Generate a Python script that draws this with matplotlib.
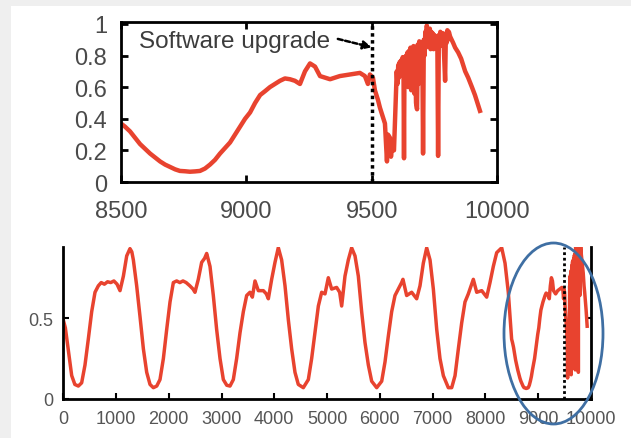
import matplotlib
matplotlib.use("Agg")
import matplotlib.pyplot as plt
from matplotlib.patches import Rectangle, Ellipse

plt.rcParams['font.family'] = ['Liberation Sans', 'DejaVu Sans']

# ---------------- data ----------------
# zoomed window (8500-10000)
zoom_t = [8500, 8516, 8536, 8556, 8576, 8596, 8616, 8636, 8656, 8676, 8696, 8716,
          8735, 8755, 8775, 8795, 8815, 8835, 8855, 8875, 8895, 8915, 8935, 8955,
          8975, 8995, 9015, 9035, 9055, 9075, 9094, 9114, 9134, 9154, 9174, 9194,
          9214, 9234, 9254, 9274, 9294, 9314, 9334, 9354, 9373, 9393, 9413, 9433,
          9453, 9473, 9485, 9493, 9505, 9513, 9525, 9533, 9545, 9553, 9561, 9565,
          9573, 9577, 9581, 9589,
          9597, 9600, 9603, 9606, 9609, 9612, 9615, 9618, 9621, 9624, 9627, 9629,
          9631, 9634, 9637, 9640, 9643, 9646, 9649, 9652, 9655, 9658, 9661, 9664,
          9667, 9670, 9673, 9677, 9681, 9684, 9687, 9690, 9693, 9696, 9699, 9702,
          9705, 9708, 9711, 9714, 9717, 9720, 9723, 9726, 9729, 9732, 9735, 9738,
          9741, 9744, 9747, 9750, 9753, 9756, 9759, 9762, 9765, 9768, 9771, 9774,
          9777, 9780, 9783, 9786, 9789, 9793, 9796, 9799, 9802, 9805, 9808, 9813,
          9825, 9833, 9845, 9857, 9873, 9885, 9900, 9912, 9924, 9932]
zoom_v = [0.37, 0.35, 0.32, 0.28, 0.24, 0.21, 0.18, 0.155, 0.13, 0.11, 0.095, 0.08,
          0.07, 0.068, 0.065, 0.067, 0.07, 0.085, 0.11, 0.14, 0.18, 0.215, 0.25, 0.30,
          0.35, 0.40, 0.44, 0.50, 0.55, 0.575, 0.60, 0.62, 0.64, 0.655, 0.65, 0.64,
          0.62, 0.70, 0.75, 0.73, 0.67, 0.66, 0.65, 0.66, 0.67, 0.675, 0.68, 0.685,
          0.69, 0.67, 0.62, 0.68, 0.66, 0.58, 0.52, 0.47, 0.41, 0.37, 0.13, 0.30,
          0.28, 0.16, 0.22, 0.20,
          0.55, 0.70, 0.62, 0.74, 0.66, 0.76, 0.68, 0.77, 0.70, 0.79, 0.72, 0.15,
          0.78, 0.70, 0.80, 0.68, 0.82, 0.60, 0.83, 0.66, 0.85, 0.58, 0.84, 0.62,
          0.86, 0.56, 0.85, 0.50, 0.46, 0.87, 0.62, 0.89, 0.70, 0.88, 0.75, 0.86,
          0.18, 0.90, 0.80, 0.95, 0.85, 0.99, 0.88, 0.96, 0.86, 0.97, 0.84, 0.95,
          0.86, 0.94, 0.84, 0.93, 0.86, 0.92, 0.88, 0.90, 0.165, 0.93, 0.86, 0.95,
          0.88, 0.94, 0.86, 0.94, 0.80, 0.64, 0.93, 0.88, 0.96, 0.90, 0.95, 0.92,
          0.88, 0.85, 0.82, 0.78, 0.70, 0.66, 0.60, 0.55, 0.49, 0.45]

# full trace (0-8500)
day_t = [0, 40, 100, 160, 220, 286, 349, 412, 475, 539, 602, 665, 720, 780, 840,
         900, 960, 1020, 1076, 1140, 1203, 1265, 1300, 1329, 1392, 1455, 1519, 1582,
         1645, 1708, 1772, 1834, 1898, 1961, 2024, 2087, 2150, 2210, 2270, 2330,
         2400, 2460, 2497, 2560, 2624, 2680, 2719, 2782, 2845, 2908, 2972, 3035,
         3100, 3161, 3224, 3287, 3351, 3414, 3477, 3540, 3585, 3635, 3698, 3793,
         3850, 3888, 3951, 4014, 4077, 4140, 4204, 4267, 4330, 4393, 4456, 4551,
         4646, 4709, 4772, 4836, 4899, 4962, 5025, 5088, 5183, 5240, 5278, 5341,
         5404, 5467, 5531, 5594, 5657, 5720, 5784, 5847, 5942, 6037, 6100, 6163,
         6226, 6289, 6352, 6415, 6440, 6510, 6605, 6700, 6763, 6826, 6890, 6953,
         7016, 7080, 7142, 7206, 7300, 7364, 7427, 7490, 7553, 7616, 7679, 7774,
         7838, 7933, 8027, 8090, 8153, 8217, 8312, 8375, 8437, 8480]
day_v = [0.49, 0.44, 0.29, 0.145, 0.09, 0.08, 0.10, 0.21, 0.37, 0.54, 0.66, 0.70,
         0.72, 0.71, 0.725, 0.72, 0.73, 0.71, 0.67, 0.76, 0.885, 0.93, 0.91, 0.86,
         0.70, 0.51, 0.31, 0.165, 0.09, 0.07, 0.08, 0.12, 0.25, 0.43, 0.60, 0.72,
         0.73, 0.72, 0.73, 0.72, 0.70, 0.68, 0.66, 0.74, 0.845, 0.87, 0.90, 0.82,
         0.64, 0.43, 0.25, 0.12, 0.085, 0.08, 0.12, 0.25, 0.41, 0.54, 0.64, 0.66,
         0.63, 0.73, 0.67, 0.67, 0.65, 0.62, 0.74, 0.845, 0.936, 0.86, 0.70, 0.49,
         0.31, 0.165, 0.09, 0.07, 0.12, 0.25, 0.41, 0.575, 0.66, 0.65, 0.75, 0.68,
         0.69, 0.66, 0.575, 0.76, 0.86, 0.935, 0.885, 0.76, 0.54, 0.35, 0.21, 0.11,
         0.07, 0.11, 0.23, 0.39, 0.54, 0.64, 0.68, 0.72, 0.74, 0.64, 0.66, 0.62,
         0.70, 0.84, 0.935, 0.86, 0.68, 0.43, 0.25, 0.144, 0.07, 0.07, 0.144, 0.31,
         0.47, 0.60, 0.65, 0.74, 0.66, 0.67, 0.63, 0.72, 0.82, 0.905, 0.935, 0.84,
         0.66, 0.46]

top_xticks = [8500, 9000, 9500, 10000]
top_yticks = [0, 0.2, 0.4, 0.6, 0.8, 1]
top_yticklabels = ['0', '0.2', '0.4', '0.6', '0.8', '1']
bot_xticks = [0, 1000, 2000, 3000, 4000, 5000, 6000, 7000, 8000, 9000, 10000]
bot_yticks = [0, 0.5]
bot_yticklabels = ['0', '0.5']
upgrade_t = 9500
annot_text = 'Software upgrade'

RED = '#e8432f'
TXT = '#4a4a4a'
W, H = 631, 439

fig = plt.figure(figsize=(W / 100, H / 100), dpi=100, facecolor='#efefef')
fig.add_artist(Rectangle((11 / W, 0), 1 - 11 / W, 1 - 7 / H, transform=fig.transFigure,
                         facecolor='white', edgecolor='none', zorder=0))

def fa(l, t, r, b):
    return [l / W, 1 - b / H, (r - l) / W, (b - t) / H]

# ---------------- top panel ----------------
ax1 = fig.add_axes(fa(121, 23, 497, 183))
ax1.plot(zoom_t, zoom_v, color=RED, lw=3.2)
ax1.axvline(upgrade_t, color='k', ls=(0, (1, 1)), lw=2.5)
ax1.set_xlim(8500, 10000)
ax1.set_ylim(0, 1.012)
ax1.set_xticks(top_xticks)
ax1.set_yticks(top_yticks)
ax1.set_yticklabels(top_yticklabels)
ax1.tick_params(direction='in', length=5, width=2, top=True, right=True,
                labelsize=17, labelcolor=TXT, color='k')
ax1.tick_params(axis='x', pad=13)
ax1.tick_params(axis='y', pad=10)
for s in ax1.spines.values():
    s.set_linewidth(2)
ax1.text(8572, 0.854, annot_text, fontsize=17.5, color='#3c3c3c', va='baseline')
ax1.annotate('', xy=(upgrade_t, 0.852), xytext=(9365, 0.905),
             arrowprops=dict(arrowstyle='-|>,head_length=0.5,head_width=0.25',
                             linestyle=(0, (2, 1)), lw=1.8, color='k',
                             shrinkA=0, shrinkB=0))

# ---------------- bottom panel ----------------
ax2 = fig.add_axes(fa(63.25, 248, 590.75, 400))
full_t = day_t + zoom_t
full_v = day_v + zoom_v
ax2.plot(full_t, full_v, color=RED, lw=2.5)
ax2.axvline(upgrade_t, color='k', ls=(0, (1, 1)), lw=2)
ax2.set_xlim(0, 10000)
ax2.set_ylim(0, 0.94)
ax2.set_xticks(bot_xticks)
ax2.set_yticks(bot_yticks)
ax2.set_yticklabels(bot_yticklabels)
ax2.tick_params(direction='in', length=4, width=1.5, right=True,
                labelsize=13, labelcolor='#555555', color='k')
ax2.tick_params(axis='x', pad=8)
ax2.tick_params(axis='y', pad=7)
ax2.spines['top'].set_visible(False)
for s in ['left', 'bottom', 'right']:
    ax2.spines[s].set_linewidth(2)

fig.add_artist(Ellipse((553.5 / W, 1 - 334.5 / H), 99 / W, 181 / H,
                       transform=fig.transFigure, fill=False,
                       edgecolor='#3f6fa3', lw=2, zorder=5))

fig.savefig('out.png', dpi=100, facecolor=fig.get_facecolor())
